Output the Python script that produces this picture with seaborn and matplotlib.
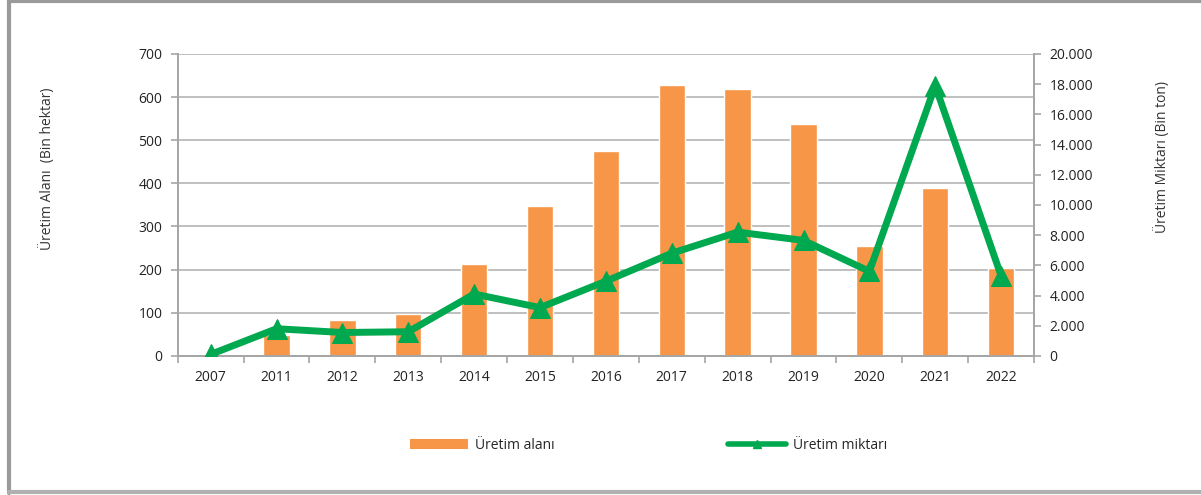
import numpy as np
import pandas as pd
import seaborn as sns
import matplotlib.pyplot as plt
from matplotlib.ticker import FuncFormatter, MultipleLocator, FixedLocator
from matplotlib.lines import Line2D
from matplotlib.patches import Patch

years = ["2007", "2011", "2012", "2013", "2014", "2015", "2016",
         "2017", "2018", "2019", "2020", "2021", "2022"]
uretim_alani = [4, 49, 83, 98, 213, 348, 474, 628, 618, 538, 255, 390, 204]        # bin hektar
uretim_miktari = [100, 1800, 1550, 1600, 4100, 3200, 4950, 6800, 8200, 7650, 5600, 17900, 5300]  # bin ton

bar_color = "#F79646"
line_color = "#00A84F"
grid_color = "#BFBFBF"
axis_color = "#A6A6A6"

sns.set_theme(style="white")
plt.rcParams["font.family"] = ["Open Sans", "DejaVu Sans"]

df = pd.DataFrame({"yil": years, "alan": uretim_alani, "miktar": uretim_miktari})
df["pos"] = np.arange(len(df))

fig = plt.figure(figsize=(12.01, 4.95), dpi=100)
ax = fig.add_axes([0.148, 0.281, 0.713, 0.610])

sns.barplot(data=df, x="yil", y="alan", color=bar_color, width=0.40,
            saturation=1, ax=ax, zorder=2)
ax.set_ylim(0, 700)
ax.set_xlim(-0.5, len(years) - 0.5)
ax.yaxis.set_major_locator(MultipleLocator(100))
ax.grid(axis="y", color=grid_color, linewidth=1.4, zorder=0)
ax.set_axisbelow(True)

ax2 = ax.twinx()
sns.lineplot(data=df, x="pos", y="miktar", color=line_color, linewidth=5,
             marker="^", markersize=15, markeredgecolor=line_color,
             ax=ax2, zorder=3)
ax2.set_ylim(0, 20000)
ax2.set_xlim(-0.5, len(years) - 0.5)
ax2.yaxis.set_major_locator(MultipleLocator(2000))
ax2.yaxis.set_major_formatter(FuncFormatter(lambda v, p: f"{int(v):,}".replace(",", ".")))
ax2.grid(False)

# Axis styling
for a in (ax, ax2):
    a.spines["top"].set_visible(False)
    for side in ("left", "right", "bottom"):
        a.spines[side].set_color(axis_color)
        a.spines[side].set_linewidth(1.4)
    a.set_xlabel("")

ax.set_xticks(np.arange(len(years)))
ax.set_xticklabels(years)
ax.xaxis.set_minor_locator(FixedLocator(np.arange(-0.5, len(years), 1)))
ax.tick_params(axis="x", which="major", length=0, pad=10, labelsize=10, labelcolor="#222222")
ax.tick_params(axis="x", which="minor", length=5, width=1.2, color=axis_color, bottom=True)
ax.tick_params(axis="y", length=5, width=1.2, color=axis_color, left=True,
               labelsize=10, labelcolor="#222222", pad=6)
ax2.tick_params(axis="y", length=5, width=1.2, color=axis_color, right=True,
                labelsize=10, labelcolor="#222222", pad=6)

ax.set_ylabel("Üretim Alanı  (Bin hektar)", fontsize=10, color="#333333", labelpad=0)
ax.yaxis.set_label_coords(-0.143, 0.62)
ax2.set_ylabel("Üretim Miktarı (Bin ton)", fontsize=10, color="#333333", labelpad=0)
ax2.yaxis.set_label_coords(1.14, 0.66)

# Legend below the plot
handles = [
    Patch(facecolor=bar_color, edgecolor="none", label="Üretim alanı"),
    Line2D([0], [0], color=line_color, linewidth=4, marker="^", markersize=6,
           label="Üretim miktarı"),
]
fig.legend(handles=handles, loc="center", bbox_to_anchor=(0.54, 0.10), ncol=2,
           frameon=False, fontsize=10, columnspacing=12.5, handlelength=4.2,
           handletextpad=0.5)

# Outer frame of the chart
frame = dict(color="#9A9A9A", linewidth=3, transform=fig.transFigure, clip_on=False)
fig.add_artist(Line2D([0.0075, 0.0075], [0.005, 1.0], **frame))
fig.add_artist(Line2D([0.0075, 1.0], [0.997, 0.997], **frame))
fig.add_artist(Line2D([0.0075, 1.0], [0.006, 0.006], color="#B0B0B0", linewidth=3,
                      transform=fig.transFigure, clip_on=False))

fig.savefig("out.png", dpi=100, facecolor="white")
